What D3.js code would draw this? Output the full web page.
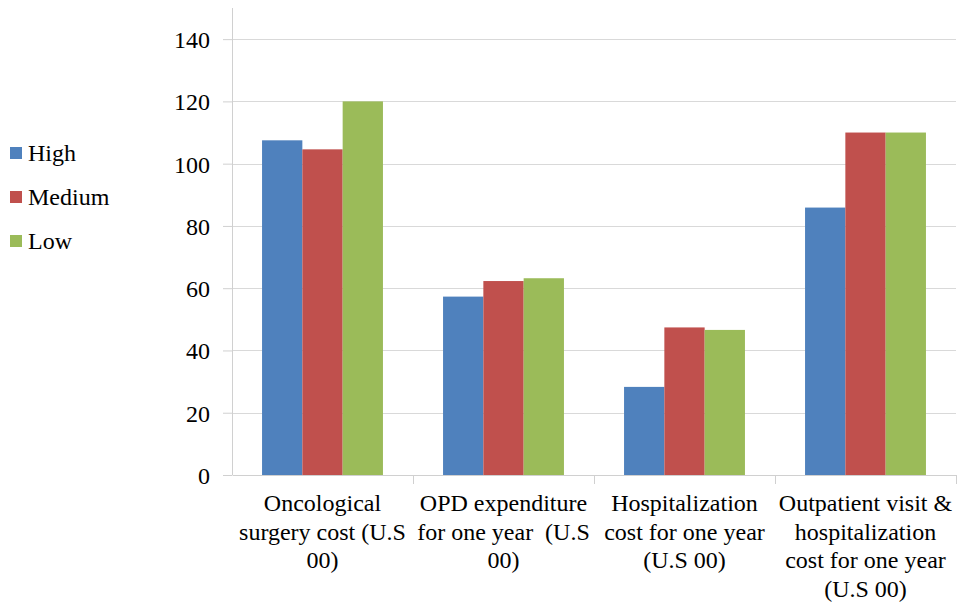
<!DOCTYPE html>
<meta charset="utf-8">
<body style="margin:0; background:#fff">
<script src="https://d3js.org/d3.v7.min.js"></script>
<script>

    // categories (each label split into its lines)
    var categories = ["Oncological surgery cost (U.S 00)", "OPD expenditure for one year (U.S 00)", "Hospitalization cost for one year (U.S 00)", "Outpatient visit & hospitalization cost for one year (U.S 00)"]
    var categoryLines = [
        ["Oncological", "surgery cost (U.S", "00)"],
        ["OPD expenditure", "for one year  (U.S", "00)"],
        ["Hospitalization", "cost for one year", "(U.S 00)"],
        ["Outpatient visit &", "hospitalization", "cost for one year", "(U.S 00)"]
    ]
    var seriesNames = ["High", "Medium", "Low"]
    var highValues = [107.5, 57.3, 28.3, 85.9]
    var mediumValues = [104.6, 62.3, 47.4, 110]
    var lowValues = [120, 63.2, 46.6, 110]
    var yTicks = [0, 20, 40, 60, 80, 100, 120, 140]

    var colors = ["#4F81BD", "#C0504D", "#9BBB59"]
    var fontName = "Liberation Serif"
    var fontSize = 24

    var margin = {top: 8, right: 1, bottom: 130, left: 232},
        width = 957 - margin.left - margin.right,
        height = 605 - margin.top - margin.bottom;

    var root = d3.select("body")
        .append("svg")
        .attr("width", 957)
        .attr("height", 605)
        .attr("font-family", fontName);

    var svg = root.append("g")
        .attr("transform", "translate(" + margin.left + "," + margin.top + ")");

    var x = d3.scaleBand()
        .range([0, width])
        .domain(categories)
        .paddingInner(0)
        .paddingOuter(0);

    var x1 = d3.scaleBand()
        .domain(seriesNames)
        .range([x.bandwidth() * 0.166, x.bandwidth() * 0.834]);

    // axis max 150 (plot top), gridlines up to 140
    var y = d3.scaleLinear()
        .domain([0, 150])
        .range([height, 0]);

    // horizontal grid
    svg.append("g")
        .selectAll("line")
        .data(yTicks.filter(function(d) { return d > 0 }))
        .enter()
        .append("line")
        .attr("x1", 0)
        .attr("x2", width)
        .attr("y1", function(d) { return Math.round(y(d)) + 0.5 })
        .attr("y2", function(d) { return Math.round(y(d)) + 0.5 })
        .attr("stroke", "#d9d9d9")
        .attr("stroke-width", 1);

    // bars
    var table = categories.map(function(c, i) {
        return [highValues[i], mediumValues[i], lowValues[i]].map(function(v, j) {
            return {cat: c, series: seriesNames[j], value: v, color: colors[j]};
        });
    });

    svg.append("g")
        .selectAll("g")
        .data(table)
        .enter()
        .append("g")
        .attr("transform", function(d, i) { return "translate(" + x(categories[i]) + ",0)" })
        .selectAll("rect")
        .data(function(d) { return d })
        .enter()
        .append("rect")
        .attr("x", function(d) { return x1(d.series) })
        .attr("y", function(d) { return y(d.value) })
        .attr("width", x1.bandwidth())
        .attr("height", function(d) { return height - y(d.value) })
        .attr("fill", function(d) { return d.color });

    // y axis
    var yAxis = svg.append("g")
        .call(d3.axisLeft(y).tickValues(yTicks).tickSize(9).tickPadding(13));
    yAxis.attr("font-family", fontName).attr("font-size", fontSize);
    yAxis.select(".domain").attr("stroke", "#d0d0d0").attr("d", "M0.5," + height + "V0");
    yAxis.selectAll(".tick line").attr("stroke", "#d0d0d0");
    yAxis.selectAll(".tick text")
        .attr("font-family", fontName)
        .attr("dy", "0.35em")
        .attr("fill", "#000");

    // x axis
    var xAxis = svg.append("g")
        .attr("transform", "translate(0," + height + ")")
        .call(d3.axisBottom(x).tickSize(0).tickFormat(""));
    xAxis.select(".domain").attr("stroke", "#d0d0d0");
    xAxis.selectAll(".tick").remove();

    // category boundary ticks
    xAxis.selectAll(".bound")
        .data(categories)
        .enter()
        .append("line")
        .attr("x1", function(d) { return Math.round(x(d) + x.bandwidth()) + 0.5 })
        .attr("x2", function(d) { return Math.round(x(d) + x.bandwidth()) + 0.5 })
        .attr("y1", 0)
        .attr("y2", 9)
        .attr("stroke", "#d0d0d0");

    // category labels
    categoryLines.forEach(function(lines, i) {
        var cx = x(categories[i]) + x.bandwidth() / 2;
        lines.forEach(function(l, k) {
            svg.append("text")
                .attr("x", cx)
                .attr("y", height + 36 + k * 28.7)
                .attr("text-anchor", "middle")
                .attr("font-family", fontName)
                .attr("font-size", fontSize)
                .text(l.replace("  ", "\u00a0 "));
        });
    });

    // legend
    var legend = root.append("g")
        .attr("transform", "translate(10,147)");
    seriesNames.forEach(function(s, i) {
        legend.append("rect")
            .attr("x", 0)
            .attr("y", i * 44)
            .attr("width", 12)
            .attr("height", 12)
            .attr("fill", colors[i]);
        legend.append("text")
            .attr("x", 18)
            .attr("y", i * 44 + 14)
            .attr("font-family", fontName)
            .attr("font-size", fontSize)
            .text(s);
    });

</script>
</body>
